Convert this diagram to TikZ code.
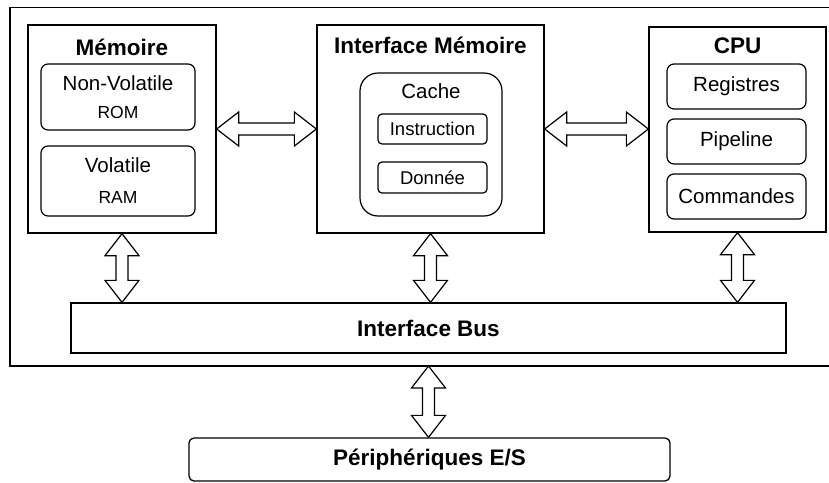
\documentclass[tikz,border=0pt]{standalone}
\usepackage{fontspec}
\setmainfont{Liberation Sans}
\usetikzlibrary{calc}
\newcommand\romfont{\fontsize{17.5}{19}\selectfont}

\begin{document}
\begin{tikzpicture}[x=1pt, y=1pt,
  block/.style={draw, line width=1.3pt, inner sep=0pt},
  part/.style={draw, line width=1.2pt, rounded corners=7pt, inner sep=0pt, align=center,
    font=\fontsize{20.5}{28}\selectfont},
  head/.style={font=\fontsize{22.5}{26}\selectfont\bfseries, inner sep=0pt},
  biarrow/.style={draw, line width=1.2pt, fill=white, line join=miter},
  hbus/.style={biarrow, to path={let \p1=(\tikztostart), \p2=(\tikztotarget) in
    (\x1,\y1) -- (\x1+22pt,\y1+17pt) -- (\x1+22pt,\y1+6pt) -- (\x2-22pt,\y1+6pt)
    -- (\x2-22pt,\y1+17pt) -- (\x2,\y1) -- (\x2-22pt,\y1-17pt) -- (\x2-22pt,\y1-6pt)
    -- (\x1+22pt,\y1-6pt) -- (\x1+22pt,\y1-17pt) -- cycle}},
  vbus/.style={biarrow, to path={let \p1=(\tikztostart), \p2=(\tikztotarget) in
    (\x1,\y1) -- (\x1-17pt,\y1-22pt) -- (\x1-6pt,\y1-22pt) -- (\x1-6pt,\y2+22pt)
    -- (\x1-17pt,\y2+22pt) -- (\x1,\y2) -- (\x1+17pt,\y2+22pt) -- (\x1+6pt,\y2+22pt)
    -- (\x1+6pt,\y1-22pt) -- (\x1+17pt,\y1-22pt) -- cycle}}]

  \useasboundingbox (0,0) rectangle (829,-482);

  % cadre du systeme (le bord droit sort de l'image)
  \draw[line width=1.5pt] (829,-7.5) -- (10,-7.5) -- (10,-366) coordinate (framebot) -- (829,-366);

  % Memoire
  \node[block, minimum width=188pt, minimum height=208pt] (mem) at (122,-129) {};
  \node[head] (memtitle) at (122,-47) {Mémoire};
  \node[part, minimum width=154pt, minimum height=66pt] (nonvol) at (118,-97) {Non-Volatile\\{\romfont ROM}};
  \node[part, minimum width=154pt, minimum height=70pt] (vol) at (118,-181) {Volatile\\[3pt]{\romfont RAM}};

  % Interface memoire
  \node[block, minimum width=227pt, minimum height=208pt] (memif) at (430.5,-129) {};
  \node[head] (memiftitle) at (430.5,-45) {Interface Mémoire};
  \node[part, rounded corners=18pt, minimum width=142pt, minimum height=143pt] (cache) at (431,-144.5) {};
  \node[font=\fontsize{20.5}{24}\selectfont, inner sep=0pt] (cachetitle) at (431,-91) {Cache};
  \node[part, rounded corners=4pt, font=\fontsize{18.5}{22}\selectfont, minimum width=109pt, minimum height=30pt] (instr) at (432.5,-129) {Instruction};
  \node[part, rounded corners=4pt, font=\fontsize{18.5}{22}\selectfont, minimum width=109pt, minimum height=31pt] (donnee) at (432.5,-177.5) {Donnée};

  % CPU
  \node[block, minimum width=177pt, minimum height=205pt] (cpu) at (737.5,-129.5) {};
  \node[head] (cputitle) at (737.5,-46) {CPU};
  \node[part, minimum width=139pt, minimum height=45pt] (regs) at (736.5,-86.5) {Registres};
  \node[part, minimum width=139pt, minimum height=45pt] (pipe) at (736.5,-141.5) {Pipeline};
  \node[part, minimum width=139pt, minimum height=45pt] (cmds) at (736.5,-196.5) {Commandes};

  % bus et peripheriques
  \node[block, head, minimum width=715pt, minimum height=50pt] (bus) at (428.5,-328) {Interface Bus};
  \node[block, head, rounded corners=5pt, minimum width=481pt, minimum height=43pt] (periph) at (429.5,-459.5) {Périphériques E/S};

  % liaisons
  \draw[hbus] (mem.east) to (memif.west);
  \draw[hbus] (memif.east) to (cpu.west);
  \foreach \src in {mem, memif, cpu}
    \draw[vbus] (\src.south) to (\src.south |- bus.north);
  \draw[vbus] (bus.south |- framebot) to (periph.north);
\end{tikzpicture}
\end{document}
